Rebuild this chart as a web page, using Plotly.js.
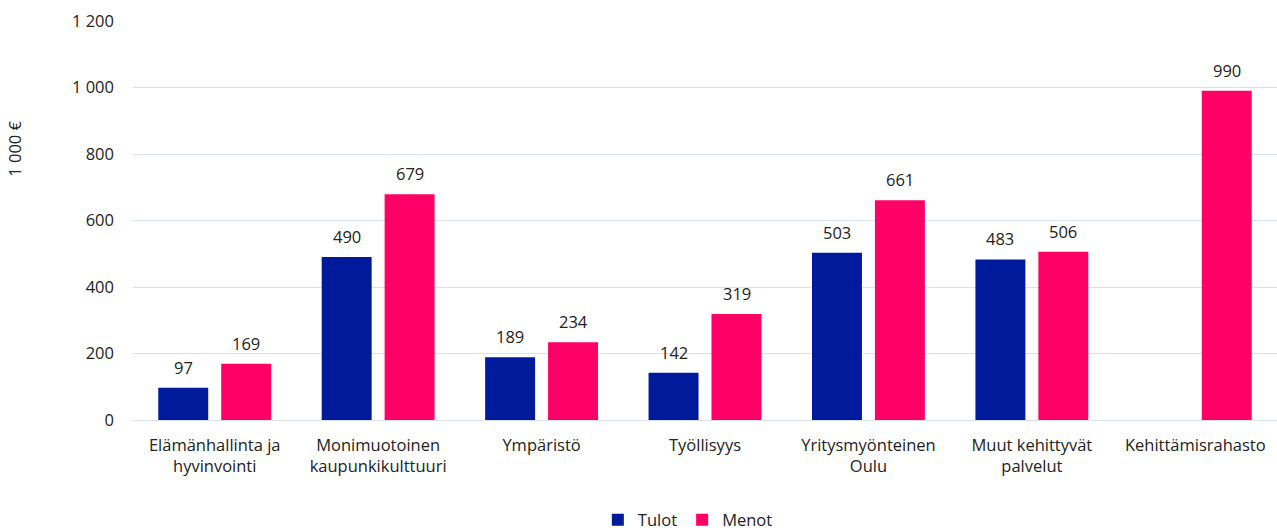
<!DOCTYPE html>
<html><head><meta charset="utf-8">
<script src="https://cdn.plot.ly/plotly-3.0.1.min.js"></script>
<style>html,body{margin:0;padding:0;background:#fff}#c{width:1277px;height:531px}</style>
</head><body><div id="c"></div>
<script>
const categories = ["Elämänhallinta ja<br>hyvinvointi","Monimuotoinen<br>kaupunkikulttuuri","Ympäristö","Työllisyys","Yritysmyönteinen<br>Oulu","Muut kehittyvät<br>palvelut","Kehittämisrahasto"];
const tulot = [97, 490, 189, 142, 503, 483, null];
const menot = [169, 679, 234, 319, 661, 506, 990];
const yTicks = [0, 200, 400, 600, 800, 1000, 1200];

const font = {family: "Open Sans, sans-serif", size: 16.5, color: "#222"};
const traces = [
  {type: "bar", name: "Tulot", x: categories, y: tulot, marker: {color: "#001A9C"}},
  {type: "bar", name: "Menot", x: categories, y: menot, marker: {color: "#FF0066"}}
];
const barShift = 31.5;
const labels = [];
[[tulot, -barShift], [menot, barShift]].forEach(([vals, dx]) => {
  vals.forEach((v, j) => {
    if (v == null) return;
    labels.push({x: categories[j], y: v, xref: "x", yref: "y", text: String(v), showarrow: false,
                 xshift: dx, yshift: 7, yanchor: "bottom", xanchor: "center", font: font});
  });
});
labels.push({text: "1 000 €", xref: "paper", yref: "paper", x: -0.1031, y: 0.68, textangle: -90,
             xanchor: "center", yanchor: "middle", showarrow: false, font: font});
const layout = {
  width: 1277, height: 531,
  margin: {l: 133, r: 0, t: 21, b: 111, autoexpand: false},
  font: font,
  separators: ", ",
  barmode: "group", bargap: 0.23, bargroupgap: 0.206,
  showlegend: true,
  legend: {orientation: "h", x: 0.485, xanchor: "center", y: -0.207, yanchor: "top", font: font},
  xaxis: {tickfont: font, showgrid: false, zeroline: false, showline: false, ticks: "", ticklabelstandoff: 13, automargin: false},
  yaxis: {range: [0, 1200], tickvals: yTicks, tickformat: ",d", tickfont: font, automargin: false,
          gridcolor: "#d9e1ea", gridwidth: 1, zeroline: true, zerolinecolor: "#d9e1ea", showline: false,
          ticklabelstandoff: 18},
  annotations: labels,
  plot_bgcolor: "#fff", paper_bgcolor: "#fff"
};
Plotly.newPlot("c", traces, layout, {displayModeBar: false});
</script></body></html>
